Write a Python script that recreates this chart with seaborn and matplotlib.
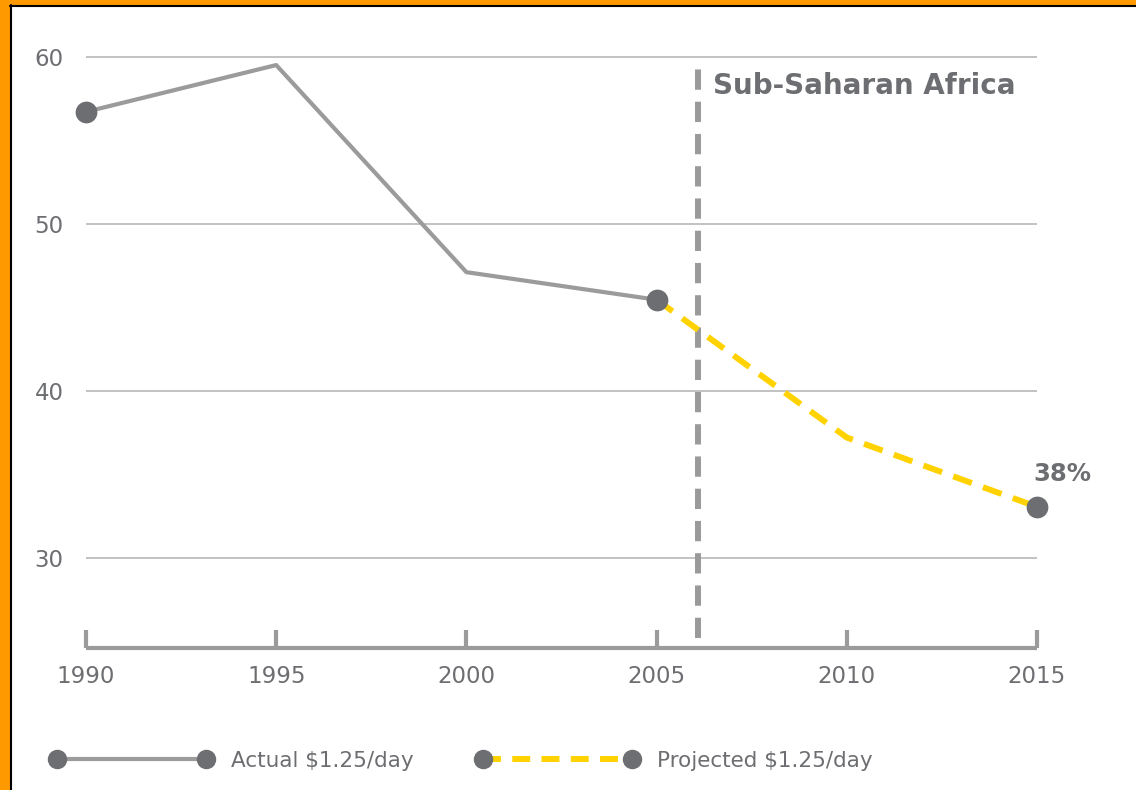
import pandas as pd
import numpy as np
import matplotlib.pyplot as plt
import seaborn as sns
from matplotlib.lines import Line2D
from matplotlib.patches import Rectangle

# values (share of population, %)
years_actual = [1990, 1995, 2000, 2005]
actual = [56.7, 59.5, 47.1, 45.45]
years_projected = [2005, 2010, 2015]
projected = [45.45, 37.2, 33.05]
marker_years = [1990, 2005, 2015]
x_ticks = [1990, 1995, 2000, 2005, 2010, 2015]
y_ticks = [30, 40, 50, 60]
cutoff_year = 2006.1
region_label = "Sub-Saharan Africa"
end_label = "38%"
legend_labels = ["Actual $1.25/day", "Projected $1.25/day"]

GREY_LINE = "#9b9b9b"
DOT = "#6d6e71"
TEXT = "#6d6e71"
YELLOW = "#FFD200"

df_actual = pd.DataFrame({"year": years_actual, "value": actual})
df_proj = pd.DataFrame({"year": years_projected, "value": projected})
all_vals = dict(zip(years_actual, actual))
all_vals.update(dict(zip(years_projected, projected)))
df_dots = pd.DataFrame({"year": marker_years, "value": [all_vals[y] for y in marker_years]})

sns.set_theme(style="white")
plt.rcParams["font.family"] = ["DejaVu Sans"]

fig = plt.figure(figsize=(11.36, 7.9), dpi=100)
W, H = 1136, 790
ax = fig.add_axes([86 / W, 1 - 648 / H, (1037 - 86) / W, (648 - 40) / H])

# gridlines
for y in y_ticks:
    ax.axhline(y, color="#bdbdbd", lw=1.3, zorder=0)

# cutoff line between actual and projected
ax.vlines(cutoff_year, 25.2, 59.5, color="#9a9a9a", lw=4.3,
          linestyles=(0, (3.4, 2.0)), zorder=1)

sns.lineplot(data=df_actual, x="year", y="value", ax=ax, color=GREY_LINE,
             lw=3, zorder=2)
sns.lineplot(data=df_proj, x="year", y="value", ax=ax, color=YELLOW,
             lw=4.3, linestyle=(0, (3.3, 2.0)), zorder=2)
sns.scatterplot(data=df_dots, x="year", y="value", ax=ax, color=DOT,
                s=210, edgecolor=DOT, zorder=4, clip_on=False)

ax.text(2006.48, 58.26, region_label, fontsize=20, fontweight="bold",
        color=TEXT, ha="left", va="center")
ax.text(2015.66, 35.0, end_label, fontsize=17.5, fontweight="bold",
        color=TEXT, ha="center", va="center")

ax.set_xlim(1990, 2015)
ax.set_ylim(24.6, 61)
ax.set_xticks(x_ticks)
ax.set_yticks(y_ticks)
ax.set_xlabel("")
ax.set_ylabel("")
for s in ["top", "right", "left"]:
    ax.spines[s].set_visible(False)
ax.spines["bottom"].set_color(GREY_LINE)
ax.spines["bottom"].set_linewidth(3)
ax.spines["bottom"].set_capstyle("butt")
ax.tick_params(axis="x", bottom=True, direction="in", length=13, width=3,
               color=GREY_LINE, labelsize=16.5, labelcolor=TEXT, pad=12)
ax.tick_params(axis="y", left=False, length=0, labelsize=16.5, labelcolor=TEXT,
               pad=16)

# legend with a dot at each end of the line
handles = [
    Line2D([], [], color=GREY_LINE, lw=3, marker="o", markersize=13,
           markerfacecolor=DOT, markeredgecolor=DOT),
    Line2D([], [], color=YELLOW, lw=4.3, linestyle=(0, (3.0, 1.9)), marker="o",
           markersize=13, markerfacecolor=DOT, markeredgecolor=DOT),
]
leg = fig.legend(handles, legend_labels, loc="center left",
                 bbox_to_anchor=(51 / W, 1 - 761 / H), ncol=2, frameon=False,
                 numpoints=2, handlelength=7.5, handletextpad=0.85,
                 columnspacing=2.95, borderpad=0, borderaxespad=0,
                 prop={"size": 15.5})
for t in leg.get_texts():
    t.set_color(TEXT)

# orange frame on left and top edges
fig.add_artist(Rectangle((0, 0), 10 / W, 1, transform=fig.transFigure,
                         color="#FF9900", zorder=10))
fig.add_artist(Rectangle((0, 1 - 5 / H), 1, 5 / H, transform=fig.transFigure,
                         color="#FF9900", zorder=10))
fig.add_artist(Line2D([11 / W, 11 / W], [0, 1 - 5 / H], transform=fig.transFigure,
                      color="black", lw=1.5, zorder=11))
fig.add_artist(Line2D([10 / W, 1], [1 - 6 / H, 1 - 6 / H], transform=fig.transFigure,
                      color="black", lw=1.5, zorder=11))

plt.savefig("out.png", dpi=100, facecolor="white")
